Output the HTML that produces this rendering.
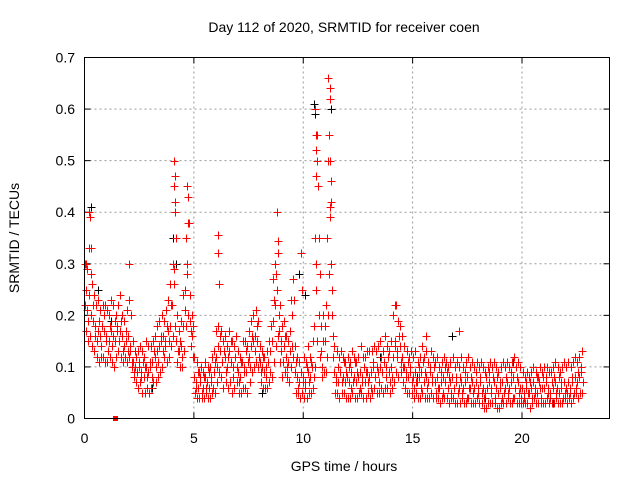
<!DOCTYPE html>
<html><head><meta charset="utf-8"><style>
body{margin:0;background:#fff}
svg{display:block;font-family:"Liberation Sans",sans-serif}
</style></head><body>
<svg id="chart" width="640" height="480" viewBox="0 0 640 480" xmlns="http://www.w3.org/2000/svg">
<rect width="640" height="480" fill="#fff"/>
<text x="344" y="32" font-size="14" text-anchor="middle">Day 112 of 2020, SRMTID for receiver coen</text>
<text x="344" y="471" font-size="14" text-anchor="middle">GPS time / hours</text>
<text x="0" y="0" font-size="14" text-anchor="middle" transform="translate(19,238) rotate(-90)">SRMTID / TECUs</text>
<g id="grid"></g>
<g id="ticks"></g>
<g id="marks"></g>
<rect x="84.5" y="57.5" width="525" height="361" fill="none" stroke="#000" stroke-width="1"/>
</svg>
<script>
const xTicks=[0,5,10,15,20];
const yTicks=[0,0.1,0.2,0.3,0.4,0.5,0.6,0.7];
const yTickLabels=["0","0.1","0.2","0.3","0.4","0.5","0.6","0.7"];
const binStart=0, binWidth=0.1;
const binA=[.22,.21,.24,.20,.19,.18,.17,.16,.18,.17, .16,.15,.17,.16,.15,.18,.17,.16,.14,.15, .16,.13,.11,.10,.09,.10,.09,.08,.10,.09, .10,.11,.12,.13,.14,.15,.16,.15,.17,.18, .22,.29,.15,.13,.14,.18,.25,.30,.19,.16, .08,.07,.06,.07,.06,.08,.07,.06,.08,.09, .12,.14,.13,.11,.12,.10,.13,.11,.10,.12, .09,.08,.11,.10,.09,.12,.14,.15,.16,.15, .11,.10,.09,.10,.11,.13,.19,.22,.25,.17, .13,.14,.12,.11,.17,.20,.09,.08,.07,.09, .08,.07,.09,.08,.10,.18,.30,.20,.13,.15, .15,.35,.50,.20,.09,.08,.07,.09,.08,.07, .08,.07,.09,.08,.07,.08,.09,.08,.07,.09, .08,.09,.10,.08,.09,.10,.09,.11,.10,.09, .10,.12,.15,.13,.14,.12,.10,.09,.08,.09, .08,.09,.07,.08,.09,.07,.08,.07,.09,.08, .07,.08,.06,.07,.08,.07,.06,.07,.08,.06, .07,.06,.07,.06,.07,.08,.06,.07,.06,.07, .06,.07,.06,.05,.06,.07,.06,.07,.06,.05, .06,.07,.06,.07,.06,.07,.08,.06,.07,.06, .06,.05,.06,.05,.06,.07,.06,.05,.06,.06, .06,.07,.06,.05,.06,.07,.06,.05,.06,.07, .06,.07,.06,.07,.08,.07,.08,.09];
const binB=[.17,.15,.16,.14,.13,.12,.11,.12,.12,.11, .11,.12,.11,.10,.12,.13,.12,.11,.12,.11, .12,.10,.08,.07,.06,.07,.05,.05,.06,.05, .06,.07,.07,.08,.09,.10,.12,.11,.12,.14, .16,.18,.11,.10,.10,.13,.18,.20,.14,.12, .05,.04,.04,.04,.04,.05,.04,.04,.05,.05, .07,.09,.08,.06,.07,.06,.07,.05,.06,.07, .05,.05,.06,.06,.05,.07,.09,.10,.11,.10, .07,.06,.06,.06,.07,.08,.11,.14,.16,.11, .08,.09,.08,.07,.10,.12,.05,.05,.04,.05, .04,.04,.05,.05,.06,.10,.15,.12,.08,.09, .09,.20,.30,.12,.05,.05,.04,.05,.05,.04, .04,.04,.05,.04,.04,.05,.05,.04,.04,.05, .04,.05,.06,.05,.05,.06,.05,.06,.06,.05, .06,.07,.09,.08,.09,.07,.06,.05,.05,.05, .04,.05,.04,.04,.05,.04,.04,.04,.05,.04, .04,.04,.03,.04,.04,.04,.03,.04,.04,.03, .03,.03,.04,.03,.03,.04,.03,.03,.03,.04, .03,.03,.02,.02,.03,.03,.03,.03,.02,.02, .03,.03,.03,.04,.03,.03,.04,.03,.03,.03, .03,.03,.03,.02,.03,.04,.03,.03,.03,.03, .03,.04,.03,.03,.03,.04,.03,.03,.03,.04, .03,.04,.03,.04,.05,.04,.05,.05];
const binC=[.30,.29,.33,.26,.24,.22,.23,.21,.22,.22, .21,.20,.23,.22,.20,.22,.24,.20,.19,.21, .23,.20,.15,.13,.13,.14,.13,.12,.15,.14, .14,.15,.16,.18,.19,.20,.19,.21,.23,.26, .30,.40,.20,.17,.19,.24,.35,.43,.24,.20, .12,.11,.09,.10,.09,.11,.10,.10,.12,.13, .17,.18,.17,.15,.16,.14,.17,.15,.14,.16, .13,.12,.15,.15,.14,.17,.19,.20,.21,.19, .14,.13,.12,.13,.15,.18,.27,.30,.32,.22, .18,.19,.16,.15,.23,.27,.14,.12,.11,.25, .12,.11,.14,.12,.15,.35,.55,.35,.18,.20, .22,.50,.64,.25,.14,.13,.12,.13,.12,.11, .12,.11,.13,.12,.11,.12,.14,.12,.12,.13, .13,.13,.14,.13,.14,.15,.13,.16,.14,.13, .15,.20,.22,.19,.18,.16,.14,.13,.12,.13, .12,.13,.11,.12,.14,.12,.13,.11,.13,.12, .11,.12,.10,.11,.12,.11,.10,.11,.12,.10, .11,.10,.12,.10,.11,.12,.10,.11,.10,.11, .10,.11,.10,.09,.10,.11,.10,.11,.10,.09, .10,.11,.10,.11,.10,.11,.12,.10,.11,.10, .09,.08,.09,.08,.09,.10,.09,.08,.10,.09, .10,.10,.09,.09,.10,.11,.10,.09,.10,.11, .10,.11,.10,.11,.12,.11,.12,.13];
const binD=[.25,.19,.28,.22,.16,.15,.19,.14,.20,.15, .13,.18,.14,.19,.17,.15,.19,.13,.17,.13, .14,.11,.09,.12,.11,.08,.11,.10,.08,.11, .08,.13,.10,.11,.16,.13,.14,.18,.15,.22, .26,.35,.13,.15,.12,.21,.28,.38,.17,.18, .06,.09,.08,.05,.08,.06,.09,.07,.06,.11, .10,.16,.11,.13,.09,.12,.15,.08,.12,.10, .07,.11,.09,.13,.11,.10,.16,.13,.18,.12, .09,.12,.08,.11,.09,.15,.23,.28,.20,.15, .11,.16,.10,.13,.14,.23,.11,.06,.09,.07, .06,.10,.07,.11,.08,.25,.45,.28,.10,.18, .12,.28,.42,.16,.07,.10,.09,.07,.11,.09, .10,.06,.07,.11,.09,.06,.07,.10,.09,.07, .06,.11,.08,.10,.07,.12,.11,.08,.12,.07, .08,.14,.12,.16,.11,.10,.08,.11,.10,.07, .06,.07,.10,.06,.11,.09,.06,.10,.07,.10, .05,.06,.09,.05,.10,.09,.08,.05,.06,.08, .05,.08,.05,.09,.04,.06,.08,.05,.09,.05, .08,.05,.04,.08,.09,.05,.08,.04,.08,.07, .04,.05,.08,.05,.09,.04,.06,.08,.05,.04, .04,.07,.05,.07,.04,.05,.08,.07,.04,.08, .08,.05,.04,.07,.08,.05,.08,.07,.04,.05, .05,.05,.08,.05,.06,.09,.10,.07];
const spikeT=[0.05,0.2,0.25,0.3,2.05,4.08,4.1,4.12,4.15,4.7,4.72,4.75,6.1,6.12,6.15,8.8,8.85,9.9,10.55,10.58,10.6,10.62,10.6,11.15,11.2,11.18,11.22,11.25,11.2,11.23,14.2,17.1,15.6];
const spikeV=[0.30,0.40,0.39,0.33,0.30,0.45,0.50,0.47,0.42,0.45,0.43,0.38,0.355,0.32,0.26,0.40,0.345,0.32,0.60,0.52,0.55,0.50,0.47,0.66,0.62,0.55,0.50,0.46,0.41,0.39,0.22,0.17,0.16];
const blackT=[0.3,0.6,1.2,4.05,4.2,8.1,9.8,10.1,10.5,10.55,11.2,11.25,13.5,16.8,18.3,19.6,21.4,3.1,7.8,15.2];
const blackV=[0.41,0.25,0.19,0.35,0.30,0.05,0.28,0.24,0.61,0.59,0.64,0.60,0.12,0.16,0.04,0.11,0.03,0.06,0.13,0.08];

const X0=84.5,X1=609.5,Y0=418.5,Y1=57.5,XMAX=24,YMAX=0.7;
const xs=t=>X0+(X1-X0)*t/XMAX;
const ys=v=>Y0-(Y0-Y1)*v/YMAX;
const NS="http://www.w3.org/2000/svg";
const grid=document.getElementById('grid'),ticks=document.getElementById('ticks'),marks=document.getElementById('marks');
function mk(tag,attrs,parent){const e=document.createElementNS(NS,tag);for(const k in attrs)e.setAttribute(k,attrs[k]);parent.appendChild(e);return e;}
xTicks.forEach((t,i)=>{
  const x=xs(t);
  if(t>0){const g=mk('line',{x1:x,x2:x,y1:Y0,y2:Y1,stroke:'#999','stroke-dasharray':'2,3'},grid);
  
  }
  mk('line',{x1:x,x2:x,y1:Y0,y2:Y0-6,stroke:'#000'},ticks);
  mk('line',{x1:x,x2:x,y1:Y1,y2:Y1+6,stroke:'#000'},ticks);
  const l=mk('text',{x:x,y:443,'font-size':14,'text-anchor':'middle'},ticks);
  l.textContent=String(t);
  
  
});
yTicks.forEach((v,i)=>{
  const y=ys(v);
  if(v>0&&v<0.7){const g=mk('line',{x1:X0,x2:X1,y1:y,y2:y,stroke:'#999','stroke-dasharray':'2,3'},grid);
  
  }
  mk('line',{x1:X0,x2:X0+6,y1:y,y2:y,stroke:'#000'},ticks);
  mk('line',{x1:X1,x2:X1-6,y1:y,y2:y,stroke:'#000'},ticks);
  const l=mk('text',{x:75,y:y+5,'font-size':14,'text-anchor':'end'},ticks);
  l.textContent=yTickLabels[i];
  
  
});
function plus(t,v,color,name){
  const x=Math.round(xs(t))+0.5,y=Math.round(ys(v))+0.5;
  const p=mk('path',{d:`M${x-4},${y}h8M${x},${y-4}v8`,stroke:color,'stroke-width':1,fill:'none'},marks);
  
  
}
blackT.forEach((t,i)=>plus(t,blackV[i],'#000','black-point'));
const binArrays=[binA,binB,binC,binD];
const offs=[0,0.05,0.025,0.075];
binArrays.forEach((arr,k)=>arr.forEach((v,i)=>plus(binStart+i*binWidth+offs[k],v,'#f00','red-point')));
spikeT.forEach((t,i)=>plus(t,spikeV[i],'#f00','red-point'));
const sq=mk('rect',{x:Math.round(xs(1.4))-2,y:Math.round(Y0)-3,width:5,height:5,fill:'#f00'},marks);


</script>
</body></html>
